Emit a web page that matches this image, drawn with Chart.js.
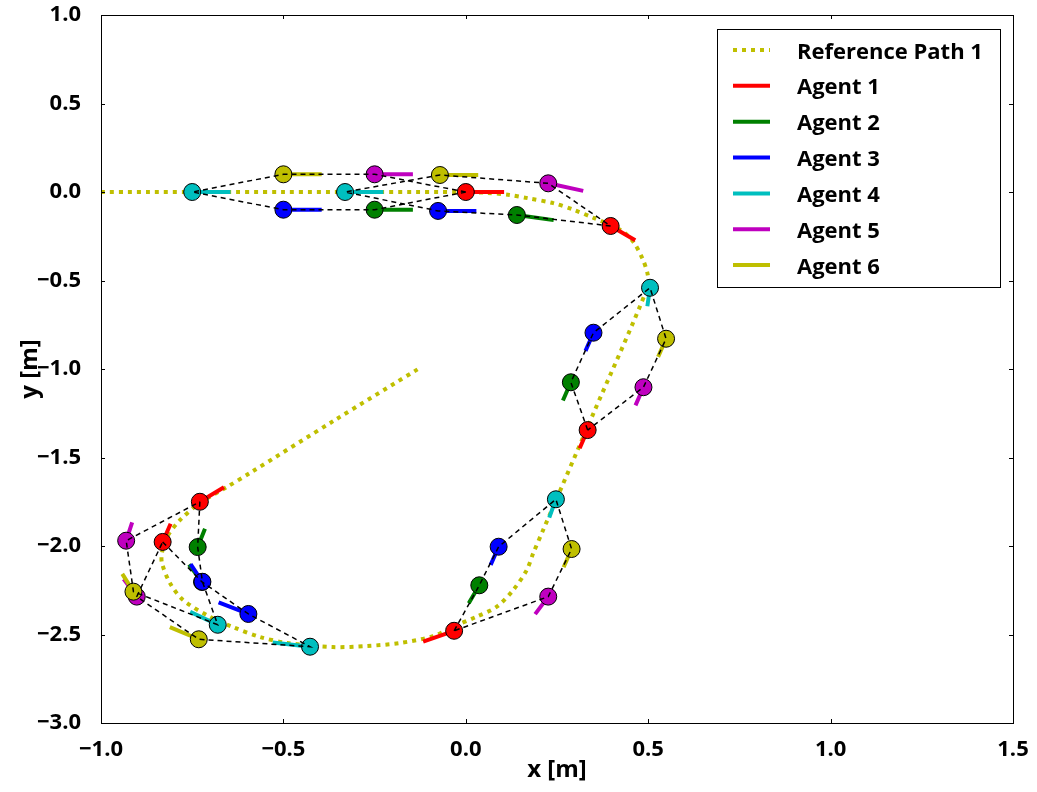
<!DOCTYPE html>
<html>
<head>
<meta charset="utf-8">
<script src="https://cdn.jsdelivr.net/npm/chart.js@4.4.0/dist/chart.umd.min.js"></script>
<style>
  html, body { margin: 0; padding: 0; background: #fff; }
</style>
</head>
<body>
<canvas id="pathChart" width="1037" height="792"></canvas>
<script>
// axis ticks
const xTicks = [-1.0, -0.5, 0.0, 0.5, 1.0, 1.5];
const yTicks = [1.0, 0.5, 0.0, -0.5, -1.0, -1.5, -2.0, -2.5, -3.0];

// reference path 1 [m]
const refX = [-1.0, -0.5, 0.0, 0.06, 0.12, 0.17, 0.24, 0.295, 0.35, 0.40, 0.435, 0.462, 0.485, 0.498, 0.50,
  0.35, 0.212, 0.185, 0.167, 0.13, 0.085, 0.03, -0.035, -0.09, -0.18, -0.271, -0.364, -0.49, -0.564,
  -0.638, -0.701, -0.775, -0.811, -0.833, -0.833, -0.819, -0.783, -0.729, -0.655, -0.592, -0.36, -0.126];
const refY = [0.0, 0.0, 0.0, -0.005, -0.017, -0.035, -0.063, -0.10, -0.146, -0.19, -0.23, -0.29, -0.38, -0.46, -0.53,
  -1.25, -1.91, -2.04, -2.136, -2.249, -2.343, -2.399, -2.456, -2.51, -2.548, -2.565, -2.571, -2.548, -2.514,
  -2.458, -2.401, -2.305, -2.209, -2.096, -2.04, -1.949, -1.853, -1.757, -1.667, -1.588, -1.29, -0.994];

// agents: one value per snapshot (6 snapshots), heading in degrees
const agentNames = ['Agent 1', 'Agent 2', 'Agent 3', 'Agent 4', 'Agent 5', 'Agent 6'];
const agentColors = ['#ff0000', '#008000', '#0000ff', '#00bfbf', '#bf00bf', '#bfbf00'];

const agent1X = [0.00, 0.397, 0.334, -0.032, -0.831, -0.729];
const agent1Y = [0.00, -0.192, -1.345, -2.479, -1.977, -1.750];
const agent1Heading = [0, -50, -102, -144, 78, 51];

const agent2X = [-0.25, 0.140, 0.288, 0.037, -0.723, -0.735];
const agent2Y = [-0.10, -0.130, -1.075, -2.222, -2.203, -2.006];
const agent2Heading = [0, -16, -102, -106, 110, 79];

const agent3X = [-0.50, -0.076, 0.350, 0.090, -0.596, -0.722];
const agent3Y = [-0.10, -0.107, -0.795, -2.004, -2.384, -2.202];
const agent3Heading = [0, 0, -102, -102, 141, 108];

const agent4X = [-0.75, -0.331, 0.505, 0.247, -0.427, -0.680];
const agent4Y = [0.00, 0.00, -0.541, -1.736, -2.569, -2.445];
const agent4Heading = [0, 0, -94, -100, 167, 136];

const agent5X = [-0.25, 0.226, 0.487, 0.226, -0.902, -0.931];
const agent5Y = [0.10, 0.049, -1.103, -2.286, -2.286, -1.970];
const agent5Heading = [0, -24, -102, -110, 110, 81];

const agent6X = [-0.50, -0.071, 0.549, 0.290, -0.732, -0.911];
const agent6Y = [0.10, 0.096, -0.829, -2.017, -2.527, -2.258];
const agent6Heading = [0, 0, -102, -102, 139, 107];

const headingLen = 0.105;
// formation links drawn per snapshot (agent numbers)
const linkOrder = [1, 2, 3, 4, 6, 5, 1];

const agentsX = [agent1X, agent2X, agent3X, agent4X, agent5X, agent6X];
const agentsY = [agent1Y, agent2Y, agent3Y, agent4Y, agent5Y, agent6Y];
const agentsH = [agent1Heading, agent2Heading, agent3Heading, agent4Heading, agent5Heading, agent6Heading];
const nSnap = agent1X.length;

const FONT = '"Open Sans", "DejaVu Sans", sans-serif';
const fmt = v => (v < 0 ? '\u2212' : '') + Math.abs(v).toFixed(1);

const datasets = [];

datasets.push({
  label: 'Reference Path 1',
  inLegend: true,
  data: refX.map((x, i) => ({ x: x, y: refY[i] })),
  showLine: true,
  borderColor: '#bfbf00',
  borderWidth: 4,
  borderDash: [4, 5],
  tension: 0.3,
  pointRadius: 0,
  order: 40
});

// heading lines
agentNames.forEach((name, a) => {
  const pts = [];
  for (let s = 0; s < nSnap; s++) {
    const ang = agentsH[a][s] * Math.PI / 180;
    pts.push({ x: agentsX[a][s], y: agentsY[a][s] });
    pts.push({ x: agentsX[a][s] + headingLen * Math.cos(ang), y: agentsY[a][s] + headingLen * Math.sin(ang) });
    pts.push({ x: null, y: null });
  }
  datasets.push({
    label: name,
    inLegend: true,
    data: pts,
    showLine: true,
    spanGaps: false,
    borderColor: agentColors[a],
    borderWidth: 4,
    borderCapStyle: 'butt',
    pointRadius: 0,
    order: 30 - a
  });
});

// agent markers
agentNames.forEach((name, a) => {
  datasets.push({
    label: name + ' pos',
    data: agentsX[a].map((x, s) => ({ x: x, y: agentsY[a][s] })),
    showLine: false,
    pointRadius: 8.5,
    pointBackgroundColor: agentColors[a],
    pointBorderColor: '#000',
    pointBorderWidth: 1,
    order: 20 - a
  });
});

// formation links (dashed black)
for (let s = 0; s < nSnap; s++) {
  datasets.push({
    label: 'links ' + (s + 1),
    data: linkOrder.map(n => ({ x: agentsX[n - 1][s], y: agentsY[n - 1][s] })),
    showLine: true,
    borderColor: '#000',
    borderWidth: 1.5,
    borderDash: [5, 4],
    pointRadius: 0,
    order: 5
  });
}

const framePlugin = {
  id: 'frame',
  afterDatasetsDraw(chart) {
    const { ctx, chartArea: a, scales } = chart;
    ctx.save();
    ctx.strokeStyle = '#000';
    ctx.lineWidth = 1;
    ctx.strokeRect(Math.round(a.left) + 0.5, Math.round(a.top) + 0.5,
      Math.round(a.right - a.left), Math.round(a.bottom - a.top));
    ctx.beginPath();
    xTicks.forEach(v => {
      const px = Math.round(scales.x.getPixelForValue(v)) + 0.5;
      ctx.moveTo(px, a.bottom); ctx.lineTo(px, a.bottom - 4);
      ctx.moveTo(px, a.top); ctx.lineTo(px, a.top + 4);
    });
    yTicks.forEach(v => {
      const py = Math.round(scales.y.getPixelForValue(v)) + 0.5;
      ctx.moveTo(a.left, py); ctx.lineTo(a.left + 4, py);
      ctx.moveTo(a.right, py); ctx.lineTo(a.right - 4, py);
    });
    ctx.stroke();
    ctx.restore();
  },
  afterDraw(chart) {
    const ctx = chart.ctx;
    const entries = chart.data.datasets.filter(d => d.inLegend);
    ctx.save();
    ctx.fillStyle = '#fff';
    ctx.fillRect(717.5, 29.5, 283, 258);
    ctx.strokeStyle = '#000';
    ctx.lineWidth = 1;
    ctx.strokeRect(717.5, 29.5, 283, 258);
    entries.forEach((d, i) => {
      const y = 50 + i * 35.85;
      ctx.beginPath();
      ctx.setLineDash(d.borderDash || []);
      ctx.strokeStyle = d.borderColor;
      ctx.lineWidth = 4;
      ctx.moveTo(733, y);
      ctx.lineTo(770, y);
      ctx.stroke();
      ctx.setLineDash([]);
      ctx.fillStyle = '#000';
      ctx.font = 'bold 22px ' + FONT;
      ctx.textBaseline = 'alphabetic';
      ctx.fillText(d.label, 797, y + 8.5);
    });
    ctx.restore();
  }
};

new Chart(document.getElementById('pathChart'), {
  type: 'scatter',
  data: { datasets: datasets },
  options: {
    responsive: false,
    animation: false,
    devicePixelRatio: 1,
    layout: { padding: { left: 0, right: 24, top: 15, bottom: 0 } },
    plugins: { legend: { display: false }, tooltip: { enabled: false } },
    scales: {
      x: {
        type: 'linear',
        min: -1.0,
        max: 1.5,
        afterBuildTicks: s => { s.ticks = xTicks.map(v => ({ value: v })); },
        afterFit: s => { s.height = 69; s.paddingLeft = 0; s.paddingRight = 0; },
        grid: { display: false },
        border: { display: false },
        ticks: {
          autoSkip: false, maxRotation: 0, padding: 6, color: '#000',
          font: { family: FONT, size: 22, weight: 'bold' },
          callback: v => fmt(v)
        },
        title: {
          display: true, text: 'x [m]', color: '#000',
          font: { family: FONT, size: 24, weight: 'bold' },
          padding: { top: 0, bottom: 7 }
        }
      },
      y: {
        type: 'linear',
        min: -3.0,
        max: 1.0,
        afterBuildTicks: s => { s.ticks = yTicks.map(v => ({ value: v })); },
        afterFit: s => { s.width = 101; s.paddingTop = 0; s.paddingBottom = 0; },
        grid: { display: false },
        border: { display: false },
        ticks: {
          autoSkip: false, padding: 12, color: '#000',
          font: { family: FONT, size: 22, weight: 'bold' },
          callback: v => fmt(v)
        },
        title: {
          display: true, text: 'y [m]', color: '#000',
          font: { family: FONT, size: 24, weight: 'bold' },
          padding: { top: 16, bottom: 0 }
        }
      }
    }
  },
  plugins: [framePlugin]
});
</script>
</body>
</html>
